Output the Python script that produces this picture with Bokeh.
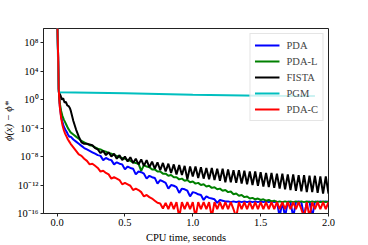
import numpy as np
from bokeh.plotting import figure
from bokeh.models import (Range1d, FixedTicker, CustomJSTickFormatter, PrintfTickFormatter,
                          Legend, LegendItem)
from bokeh.embed import file_html
from bokeh.resources import INLINE

# ---------------- data (log10 of phi(x) - phi*) ----------------
series_names = ["PDA", "PDA-L", "FISTA", "PGM", "PDA-C"]
series_colors = ["#0000ff", "#008000", "#000000", "#00bfbf", "#ff0000"]

x_ticks = [0.0, 0.5, 1.0, 1.5, 2.0]
y_ticks = [1e8, 1e4, 1e0, 1e-4, 1e-8, 1e-12, 1e-16]

# common sampling grid for the tails: 0.10, 0.12, ..., 2.00 (96 samples)
t_grid = np.round(np.linspace(0.10, 2.00, 96), 2)

# --- start segments (t < 0.10)
t_head = [0.0, 0.008, 0.012, 0.02, 0.03, 0.04, 0.05, 0.06, 0.07, 0.08, 0.09]
pda_head = [12, 6, 1.5, -0.8, -2.4, -3.2, -3.8, -4.2, -4.5, -4.9, -5.2]
pdal_head = [12, 6, 1.5, -0.5, -1.6, -2.3, -2.8, -3.2, -3.6, -4.0, -4.3]
pdac_head = [12, 6, 1.5, -1.0, -2.6, -3.6, -4.3, -4.8, -5.2, -5.6, -5.9]
t_fista_head = [0.015, 0.025, 0.035, 0.045, 0.055, 0.065, 0.075, 0.085, 0.095]
fista_head = [1.0, 0.6, 0.0, 0.2, -0.4, -0.3, -0.8, -0.9, -1.2]

# --- tails on t_grid
pda_tail = [
    -5.2, -5.6, -5.9, -6.2, -6.5, -6.8, -7.0, -7.2, -7.4, -7.6,
    -7.8, -7.9, -8.5, -8.2, -8.4, -8.5, -9.1, -8.8, -9.0, -9.1,
    -9.8, -9.4, -9.6, -9.7, -10.5, -10.1, -10.2, -10.4, -11.1, -10.7,
    -10.9, -11.0, -11.8, -11.3, -11.5, -11.7, -12.5, -12.0, -12.1, -12.3,
    -13.1, -12.5, -12.6, -12.8, -13.6, -13.0, -13.1, -13.3, -13.4, -14.1,
    -13.6, -13.8, -13.9, -14.0, -14.5, -14.1, -14.2, -14.3, -14.3, -14.4,
    -14.3, -14.4, -14.3, -14.4, -14.3, -14.4, -14.3, -14.4, -14.3, -14.4,
    -14.3, -14.4, -14.3, -14.4, -14.3, -14.4, -14.3, -16.5, -14.3, -16.5,
    -14.3, -14.4, -16.5, -14.4, -14.3, -14.4, -16.5, -14.4, -14.3, -16.5,
    -14.3, -14.4, -14.3, -14.4, -14.3, -14.4]
pdal_tail = [
    -4.6, -4.9, -5.2, -5.5, -5.8, -6.0, -6.2, -6.4, -6.5, -6.7,
    -6.9, -7.0, -7.2, -7.3, -7.5, -7.6, -7.8, -7.9, -8.1, -8.2,
    -8.3, -8.5, -8.6, -8.8, -8.9, -9.0, -10.0, -9.2, -9.4, -9.5,
    -9.8, -9.8, -10.1, -10.1, -10.4, -10.4, -10.7, -10.6, -10.9, -10.9,
    -11.2, -11.1, -11.4, -11.3, -11.6, -11.5, -11.8, -11.7, -12.0, -11.9,
    -12.2, -12.1, -12.4, -12.3, -12.6, -12.5, -12.8, -12.7, -13.0, -12.9,
    -13.3, -13.2, -13.5, -13.4, -13.7, -13.6, -13.9, -13.8, -14.0, -13.9,
    -14.1, -14.0, -14.2, -14.1, -14.3, -14.2, -14.4, -14.3, -14.4, -14.3,
    -14.4, -14.3, -14.4, -14.3, -14.4, -14.3, -14.4, -14.3, -14.4, -14.3,
    -14.4, -14.3, -14.4, -14.3, -14.4, -14.3]
fista_tail = [
    -1.5, -3.0, -4.2, -5.2, -6.0, -6.2, -6.2, -6.3, -6.4, -6.8,
    -7.0, -7.5, -7.2, -7.8, -7.4, -8.0, -7.6, -8.3, -7.8, -8.5,
    -8.0, -8.7, -8.1, -8.9, -8.3, -9.1, -8.4, -9.3, -8.5, -9.5,
    -8.7, -9.7, -8.8, -9.9, -8.9, -10.1, -9.0, -10.3, -9.1, -10.5,
    -9.2, -10.6, -9.3, -11.2, -9.4, -10.8, -9.4, -11.0, -9.5, -11.1,
    -9.6, -11.2, -9.6, -11.3, -9.7, -11.4, -9.7, -11.6, -9.8, -11.6,
    -9.9, -11.7, -9.9, -11.8, -10.0, -11.9, -10.1, -12.0, -10.1, -12.1,
    -10.2, -12.2, -10.3, -12.3, -10.3, -12.4, -10.4, -12.5, -10.4, -12.6,
    -10.5, -12.7, -10.5, -12.8, -10.6, -12.9, -10.6, -13.0, -10.7, -13.0,
    -10.7, -13.1, -10.8, -13.2, -10.8, -13.2]
pdac_tail = [
    -6.2, -6.7, -7.2, -7.7, -7.9, -8.3, -8.6, -9.1, -9.0, -9.3,
    -9.6, -10.1, -10.0, -10.3, -10.5, -11.1, -10.9, -11.1, -11.3, -11.9,
    -11.7, -11.9, -12.1, -12.7, -12.5, -12.7, -13.0, -13.6, -13.4, -13.7,
    -13.9, -14.2, -14.5, -14.6, -15.3, -14.5, -15.4, -14.4, -15.4, -14.4,
    -16.5, -14.4, -15.4, -14.4, -15.4, -14.4, -16.5, -14.4, -15.4, -14.4,
    -15.4, -14.4, -16.5, -14.4, -15.4, -14.4, -15.4, -14.4, -15.4, -14.4,
    -15.4, -16.5, -14.4, -15.4, -14.4, -15.4, -14.4, -15.4, -14.4, -15.4,
    -14.4, -15.4, -14.4, -15.4, -14.4, -15.4, -14.4, -15.4, -14.4, -15.4,
    -14.4, -15.4, -14.4, -15.4, -14.4, -15.4, -16.5, -14.4, -16.5, -14.4,
    -15.4, -14.4, -15.4, -14.4, -15.4, -14.4]

t_pgm = [0.0, 0.012, 0.5, 1.0, 1.5, 1.9]
pgm_vals = [12, 1.05, 0.9, 0.7, 0.55, 0.5]

# ---------------- assemble ----------------
series_t = [
    list(t_head) + list(t_grid),
    list(t_head) + list(t_grid),
    list(t_fista_head) + list(t_grid),
    list(t_pgm),
    list(t_head) + list(t_grid),
]
series_log = [
    pda_head + pda_tail,
    pdal_head + pdal_tail,
    fista_head + fista_tail,
    pgm_vals,
    pdac_head + pdac_tail,
]

FONT = "Liberation Serif"

p = figure(frame_width=285, frame_height=185,
           x_range=Range1d(-0.1, 2.0), y_range=Range1d(1e-16, 1e10),
           y_axis_type="log", output_backend="svg", toolbar_location=None,
           min_border_left=42, min_border_right=29, min_border_top=28,
           min_border_bottom=24)
p.background_fill_color = "white"
p.border_fill_color = "white"
p.outline_line_color = "#222222"
p.outline_line_width = 1
p.grid.visible = False

items = []
for name, col, ts, lv in zip(series_names, series_colors, series_t, series_log):
    r = p.line(ts, 10.0 ** np.array(lv, dtype=float), line_color=col, line_width=2)
    items.append(LegendItem(label=name, renderers=[r]))

legend = Legend(items=items, location="top_right", margin=5, padding=4,
                spacing=2, label_height=14, glyph_height=14, glyph_width=25,
                label_standoff=7, label_text_font=FONT,
                label_text_font_size="10.5px", border_line_color="#cccccc",
                border_line_width=1, background_fill_alpha=0.8)
p.add_layout(legend)

# axes
for ax in (p.xaxis, p.yaxis):
    ax.axis_line_color = "#222222"
    ax.major_tick_line_color = "#222222"
    ax.major_tick_in = 0
    ax.major_tick_out = 3
    ax.minor_tick_line_color = None
    ax.major_label_text_font = FONT
    ax.major_label_text_font_size = "10.5px"
    ax.major_label_text_color = "black"
    ax.axis_label_text_font = FONT
    ax.axis_label_text_font_size = "10.5px"
    ax.axis_label_text_color = "black"

p.xaxis.ticker = FixedTicker(ticks=x_ticks)
p.xaxis.formatter = PrintfTickFormatter(format="%.1f")
p.xaxis.major_label_standoff = 2
p.xaxis.axis_label = "CPU time, seconds"
p.xaxis.axis_label_text_font_style = "normal"
p.xaxis.axis_label_standoff = 3

p.yaxis.ticker = FixedTicker(ticks=y_ticks)
p.yaxis.major_label_standoff = 2
p.yaxis.formatter = CustomJSTickFormatter(code="""
const sup = {'-':'\u207b','0':'\u2070','1':'\u00b9','2':'\u00b2','3':'\u00b3','4':'\u2074',
             '5':'\u2075','6':'\u2076','7':'\u2077','8':'\u2078','9':'\u2079'};
const e = Math.round(Math.log10(tick));
return '10' + String(e).split('').map(c => sup[c]).join('');
""")
p.yaxis.axis_label = "\u03d5(x) \u2212 \u03d5*"
p.yaxis.axis_label_text_font_style = "italic"
p.yaxis.axis_label_standoff = 0

open("out.html", "w").write(file_html(p, INLINE))
